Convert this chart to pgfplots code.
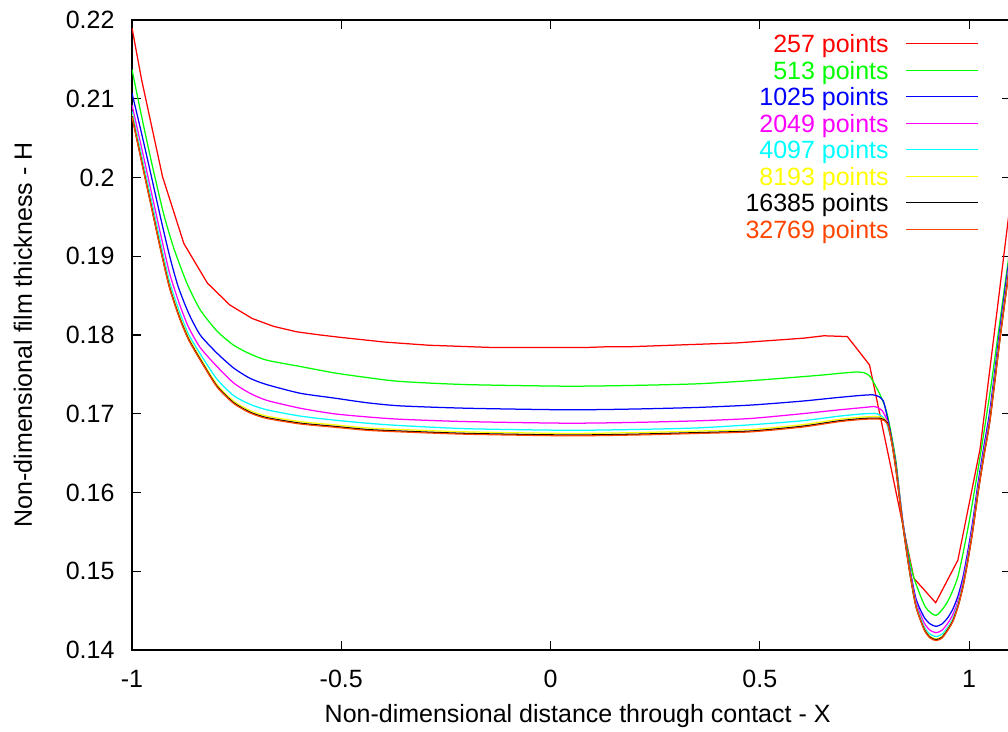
\documentclass[border=0pt]{standalone}
\usepackage{fontspec}
\setmainfont{Liberation Sans}
\usepackage{pgfplots}
\pgfplotsset{compat=1.18}
\definecolor{gpred}{RGB}{255,0,0}
\definecolor{gpgreen}{RGB}{0,255,0}
\definecolor{gpblue}{RGB}{0,0,255}
\definecolor{gpmagenta}{RGB}{255,0,255}
\definecolor{gpcyan}{RGB}{0,255,255}
\definecolor{gpyellow}{RGB}{255,255,0}
\definecolor{gpblack}{RGB}{0,0,0}
\definecolor{gporange}{RGB}{255,69,0}
\begin{document}
\begin{tikzpicture}
\begin{axis}[
  scale only axis, width=351.6pt, height=252pt,
  xmin=-1, xmax=1.1, ymin=0.14, ymax=0.22,
  xtick={-1,-0.5,0,0.5,1},
  ytick={0.14,0.15,0.16,0.17,0.18,0.19,0.2,0.21,0.22},
  scaled ticks=false,
  tick align=inside, major tick length=3.6pt,
  every tick/.style={black, line width=0.5pt},
  axis line style={line width=0.6pt},
  font=\fontsize{10}{12}\selectfont,
  ticklabel style={font=\fontsize{10}{12}\selectfont, /pgf/number format/assume math mode=true},
  yticklabel style={/pgf/number format/fixed, /pgf/number format/precision=2, xshift=-3.5pt},
  xticklabel style={yshift=-4.5pt},
  xlabel={Non-dimensional distance through contact - X},
  ylabel={Non-dimensional film thickness - H},
  xlabel style={at={(axis description cs:0.507,-0.105)}, anchor=center},
  ylabel style={at={(axis description cs:-0.124,0.5)}, anchor=center, rotate=0},
  legend plot pos=right, legend cell align=right,
  legend image code/.code={\draw[#1] (0pt,0pt) -- (28.8pt,0pt);},
  legend style={draw=none, fill=none, at={(axis description cs:0.9635,0.9833)}, anchor=north east,
    inner sep=0pt, outer sep=0pt, row sep=0pt, column sep=6.8pt,
    nodes={inner sep=0pt, text height=8.9pt, text depth=1.7pt, font=\fontsize{10}{12}\selectfont}},
  every axis plot/.append style={line width=0.5pt, mark=none},
  sm/.style={smooth, tension=0.4},
]
\coordinate (ll) at (rel axis cs:0,0);
\coordinate (ur) at (rel axis cs:1,1);
% 257 points
\addplot[gpred] coordinates {(-1,0.2190) (-0.977,0.2124) (-0.927,0.2001) (-0.876,0.1916) (-0.820,0.1866) (-0.766,0.1838) (-0.713,0.1821) (-0.662,0.1811) (-0.606,0.1804) (-0.550,0.1800) (-0.502,0.1797) (-0.449,0.1794) (-0.396,0.1791) (-0.344,0.1789) (-0.291,0.1787) (-0.238,0.1786) (-0.186,0.1785) (-0.133,0.1784) (-0.080,0.1784) (-0.027,0.1784) (0.026,0.1784) (0.079,0.1784) (0.131,0.1785) (0.184,0.1785) (0.237,0.1786) (0.289,0.1787) (0.342,0.1788) (0.395,0.1789) (0.447,0.1790) (0.500,0.1792) (0.553,0.1794) (0.605,0.1796) (0.653,0.1799) (0.709,0.1798) (0.762,0.1762) (0.815,0.1627) (0.868,0.1491) (0.920,0.1460) (0.973,0.1514) (1.026,0.1655) (1.078,0.1880) (1.131,0.2110)};
\addlegendentry{\textcolor{gpred}{257 points}}
% 513 points
\addplot[gpgreen, sm] coordinates {(-1,0.2137) (-0.978,0.2080) (-0.954,0.2021) (-0.925,0.1955) (-0.900,0.1910) (-0.869,0.1866) (-0.837,0.1832) (-0.797,0.1805) (-0.757,0.1787) (-0.718,0.1776) (-0.678,0.1768) (-0.598,0.1760) (-0.518,0.1752) (-0.439,0.1746) (-0.359,0.1741) (-0.2,0.1737) (0.04,0.1735) (0.2,0.1736) (0.35,0.1738) (0.478,0.1742) (0.6,0.1747) (0.646,0.1749) (0.734,0.1753) (0.762,0.1748) (0.789,0.1722) (0.805,0.1698) (0.825,0.1640) (0.841,0.1563) (0.857,0.1516) (0.869,0.1490) (0.895,0.1455) (0.921,0.1444) (0.947,0.1460) (0.973,0.1493) (0.999,0.1560) (1.026,0.1645) (1.052,0.1735) (1.078,0.1835) (1.104,0.1935)};
\addlegendentry{\textcolor{gpgreen}{513 points}}
% 1025 points
\addplot[gpblue, sm] coordinates {(-1,0.2107) (-0.978,0.2058) (-0.954,0.2002) (-0.930,0.1945) (-0.910,0.1900) (-0.890,0.1862) (-0.865,0.1828) (-0.837,0.1800) (-0.797,0.1777) (-0.757,0.1758) (-0.718,0.1745) (-0.678,0.1737) (-0.598,0.1726) (-0.518,0.1720) (-0.439,0.1714) (-0.359,0.1710) (-0.2,0.1707) (0.04,0.1705) (0.2,0.1706) (0.35,0.1708) (0.478,0.1711) (0.6,0.1716) (0.694,0.1721) (0.770,0.1724) (0.794,0.1717) (0.805,0.1694) (0.815,0.1668) (0.825,0.1636) (0.841,0.1566) (0.857,0.1508) (0.873,0.1465) (0.893,0.1441) (0.907,0.1433) (0.921,0.1430) (0.935,0.1433) (0.949,0.1441) (0.961,0.1452) (0.973,0.1468) (0.985,0.1492) (0.997,0.1526) (1.009,0.1565) (1.021,0.1611) (1.035,0.1658) (1.050,0.1706) (1.075,0.1814) (1.1,0.1914)};
\addlegendentry{\textcolor{gpblue}{1025 points}}
% 2049 points
\addplot[gpmagenta, sm] coordinates {(-1,0.2092) (-0.978,0.2040) (-0.954,0.1982) (-0.930,0.1924) (-0.910,0.1878) (-0.887,0.1840) (-0.865,0.1810) (-0.837,0.1784) (-0.797,0.1760) (-0.757,0.1739) (-0.718,0.1726) (-0.678,0.1717) (-0.598,0.1707) (-0.518,0.1700) (-0.439,0.1696) (-0.359,0.1693) (-0.2,0.1690) (0.04,0.1688) (0.2,0.1689) (0.35,0.1691) (0.478,0.1694) (0.6,0.1700) (0.69,0.1705) (0.75,0.1708) (0.775,0.1709) (0.792,0.1704) (0.805,0.1690) (0.815,0.1665) (0.825,0.1632) (0.841,0.1563) (0.857,0.1505) (0.873,0.1461) (0.893,0.1434) (0.907,0.1425) (0.921,0.1422) (0.935,0.1425) (0.949,0.1434) (0.961,0.1445) (0.973,0.1462) (0.985,0.1487) (0.997,0.1521) (1.009,0.1560) (1.021,0.1606) (1.035,0.1653) (1.050,0.1700) (1.075,0.1808) (1.1,0.1908)};
\addlegendentry{\textcolor{gpmagenta}{2049 points}}
% 4097 points
\addplot[gpcyan, sm] coordinates {(-1,0.2084) (-0.978,0.2030) (-0.954,0.1972) (-0.930,0.1913) (-0.910,0.1867) (-0.887,0.1830) (-0.865,0.1801) (-0.837,0.1776) (-0.797,0.1744) (-0.757,0.1723) (-0.718,0.1712) (-0.678,0.1705) (-0.598,0.1697) (-0.518,0.1692) (-0.439,0.1688) (-0.359,0.1685) (-0.2,0.1681) (0.04,0.1679) (0.2,0.1680) (0.35,0.1682) (0.478,0.1686) (0.6,0.1691) (0.69,0.1697) (0.75,0.1700) (0.78,0.1700) (0.80,0.1692) (0.815,0.1664) (0.825,0.1630) (0.841,0.1562) (0.857,0.1503) (0.873,0.1458) (0.893,0.1429) (0.907,0.1420) (0.921,0.1417) (0.935,0.1420) (0.949,0.1429) (0.961,0.1440) (0.973,0.1458) (0.985,0.1483) (0.997,0.1517) (1.009,0.1556) (1.021,0.1602) (1.035,0.1649) (1.050,0.1696) (1.075,0.1804) (1.1,0.1904)};
\addlegendentry{\textcolor{gpcyan}{4097 points}}
% 8193 points
\addplot[gpyellow, sm] coordinates {(-1,0.2080) (-0.978,0.2025) (-0.954,0.1966) (-0.930,0.1907) (-0.910,0.1862) (-0.887,0.1825) (-0.865,0.1797) (-0.837,0.1771) (-0.797,0.1737) (-0.757,0.1716) (-0.718,0.1704) (-0.678,0.1697) (-0.598,0.1690) (-0.518,0.1686) (-0.439,0.1682) (-0.359,0.1680) (-0.2,0.1677) (0.04,0.1675) (0.2,0.1676) (0.35,0.1678) (0.478,0.1680) (0.6,0.1686) (0.69,0.1693) (0.75,0.1696) (0.785,0.1696) (0.803,0.1690) (0.815,0.1665) (0.825,0.1631) (0.841,0.1562) (0.857,0.1502) (0.873,0.1456) (0.893,0.1427) (0.907,0.1417) (0.921,0.1414) (0.935,0.1417) (0.949,0.1427) (0.961,0.1438) (0.973,0.1456) (0.985,0.1481) (0.997,0.1515) (1.009,0.1554) (1.021,0.1600) (1.035,0.1647) (1.050,0.1694) (1.075,0.1802) (1.1,0.1902)};
\addlegendentry{\textcolor{gpyellow}{8193 points}}
% 16385 points
\addplot[gpblack, sm] coordinates {(-1,0.2078) (-0.978,0.2023) (-0.954,0.1964) (-0.930,0.1905) (-0.910,0.1860) (-0.887,0.1823) (-0.865,0.1795) (-0.837,0.1769) (-0.797,0.1735) (-0.757,0.1714) (-0.718,0.1702) (-0.678,0.1695) (-0.598,0.1688) (-0.518,0.1684) (-0.439,0.1680) (-0.359,0.1678) (-0.2,0.1675) (0.04,0.1673) (0.2,0.1674) (0.35,0.1676) (0.478,0.1678) (0.6,0.1684) (0.69,0.1691) (0.75,0.1694) (0.789,0.1694) (0.805,0.1688) (0.815,0.1664) (0.825,0.1630) (0.841,0.1561) (0.857,0.1502) (0.873,0.1455) (0.893,0.1426) (0.907,0.1416) (0.921,0.1413) (0.935,0.1416) (0.949,0.1426) (0.961,0.1437) (0.973,0.1455) (0.985,0.1480) (0.997,0.1514) (1.009,0.1553) (1.021,0.1599) (1.035,0.1646) (1.050,0.1693) (1.075,0.1801) (1.1,0.1901)};
\addlegendentry{\textcolor{gpblack}{16385 points}}
% 32769 points
\addplot[gporange, sm] coordinates {(-1,0.2077) (-0.978,0.2022) (-0.954,0.1963) (-0.930,0.1904) (-0.910,0.1859) (-0.887,0.1822) (-0.865,0.1794) (-0.837,0.1768) (-0.797,0.1734) (-0.757,0.1713) (-0.718,0.1701) (-0.678,0.1694) (-0.598,0.1687) (-0.518,0.1683) (-0.439,0.1679) (-0.359,0.1677) (-0.2,0.1674) (0.04,0.1672) (0.2,0.1673) (0.35,0.1675) (0.478,0.1677) (0.6,0.1683) (0.69,0.1690) (0.75,0.1693) (0.789,0.1693) (0.805,0.1687) (0.815,0.1663) (0.825,0.1629) (0.841,0.1561) (0.857,0.1502) (0.873,0.1455) (0.893,0.1425) (0.907,0.1415) (0.921,0.1412) (0.935,0.1415) (0.949,0.1425) (0.961,0.1436) (0.973,0.1454) (0.985,0.1479) (0.997,0.1513) (1.009,0.1552) (1.021,0.1598) (1.035,0.1645) (1.050,0.1692) (1.075,0.1800) (1.1,0.1900)};
\addlegendentry{\textcolor{gporange}{32769 points}}
\end{axis}
\pgfresetboundingbox
\path[use as bounding box] ([xshift=-52.8pt, yshift=-32.8pt]ll) rectangle ([xshift=-1.2pt, yshift=8pt]ur);
\end{tikzpicture}
\end{document}
